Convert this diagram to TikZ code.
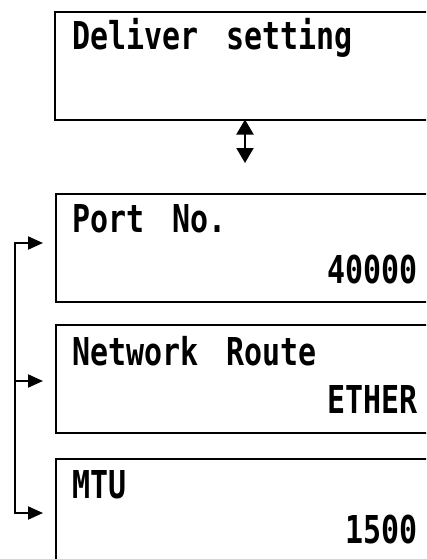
\documentclass[tikz,border=0pt]{standalone}
\usepackage{fontspec}
\usetikzlibrary{arrows.meta}
\newfontfamily\lcdfont{DejaVu Sans Mono}[FakeStretch=0.78]
% wider gap between words, as on the panel display
\newcommand\gap{\hspace{28pt}}
\begin{document}
\begin{tikzpicture}[x=1pt,y=-1pt,
  screen/.style={draw,line width=2pt,anchor=north west,minimum width=420pt,
    minimum height=108pt,inner sep=0pt},
  lcd/.style={inner sep=0pt,font=\lcdfont\bfseries\fontsize{38.4}{40}\selectfont},
  label/.style={lcd,anchor=base west},
  value/.style={lcd,anchor=base east},
  link/.style={line width=2pt,-{Triangle[length=15pt,width=13pt]},shorten >=12pt},
  swap/.style={line width=2pt,{Triangle[length=15pt,width=17pt]}-{Triangle[length=15pt,width=17pt]}}]
\useasboundingbox (0,0) rectangle (426,559);
\clip (0,0) rectangle (426,559);

% screens
\node[screen] (top) at (54,11) {};
\node[screen] (port) at (55,193) {};
\node[screen] (route) at (55,324) {};
\node[screen] (mtu) at (55,458) {};

% screen texts
\node[label] (t1) at (72,50) {Deliver\gap setting};
\node[label] (t2) at (72,232) {Port\gap No.};
\node[value] (v2) at (418,283) {40000};
\node[label] (t3) at (72,365) {Network\gap Route};
\node[value] (v3) at (418,413) {ETHER};
\node[label] (t4) at (72,498) {MTU};
\node[value] (v4) at (418,543) {1500};

% up/down between the title screen and the item list
\coordinate (ud1) at (245,119.5);
\coordinate (ud2) at (245,163);
\draw[swap] (ud1) -- (ud2);

% cycling bracket over the items
\coordinate (c1) at (15,243);
\coordinate (c2) at (15,381);
\coordinate (c3) at (15,513);
\draw[line width=2pt] (c1) -- (c3);
\draw[link] ([xshift=-1pt]c1) -- (c1 -| port.west);
\draw[link] (c2) -- (c2 -| route.west);
\draw[link] ([xshift=-1pt]c3) -- (c3 -| mtu.west);
\end{tikzpicture}
\end{document}
